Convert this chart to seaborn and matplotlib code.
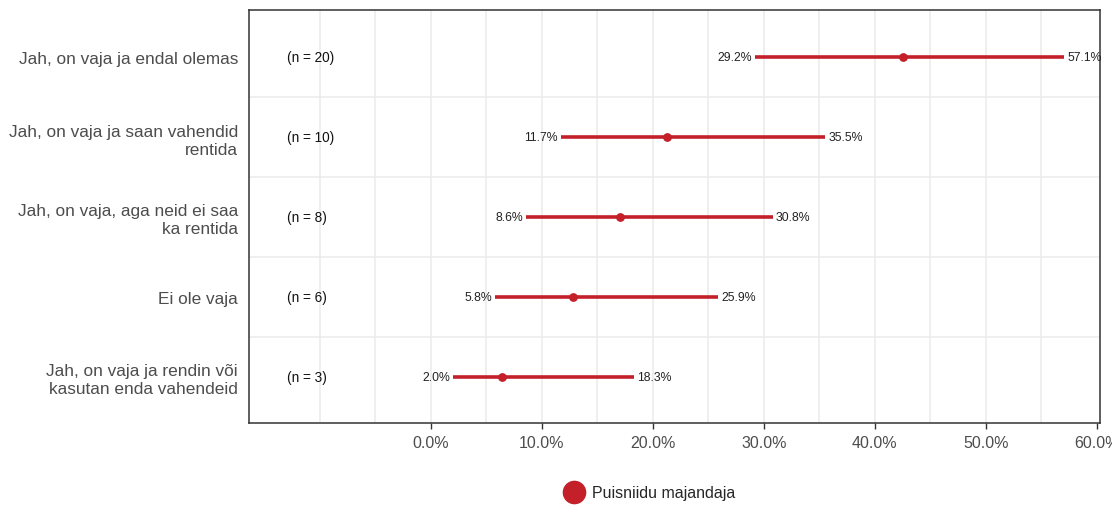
import matplotlib
matplotlib.use("Agg")
import matplotlib.pyplot as plt
import seaborn as sns
import pandas as pd
from matplotlib.lines import Line2D

categories = [
    "Jah, on vaja ja endal olemas",
    "Jah, on vaja ja saan vahendid\nrentida",
    "Jah, on vaja, aga neid ei saa\nka rentida",
    "Ei ole vaja",
    "Jah, on vaja ja rendin või\nkasutan enda vahendeid",
]
counts = [20, 10, 8, 6, 3]
total = 47
estimates = [c / total * 100 for c in counts]
lower = [29.2, 11.7, 8.6, 5.8, 2.0]
upper = [57.1, 35.5, 30.8, 25.9, 18.3]
tick_values = [0, 10, 20, 30, 40, 50, 60]
group_label = "Puisniidu majandaja"

df = pd.DataFrame({"cat": categories, "n": counts, "est": estimates,
                   "lo": lower, "hi": upper})
df["row"] = range(len(df))

sns.set_theme(style="white")
plt.rcParams["font.family"] = ["Liberation Sans", "DejaVu Sans"]

red = "#C3202A"
fig = plt.figure(figsize=(11.12, 5.06), dpi=100)
ax = fig.add_axes([249 / 1112, 1 - 424 / 506, (1100 - 249) / 1112, (424 - 11) / 506])

# grid
for x in range(-10, 60, 5):
    ax.axvline(x, color="#EBEBEB", lw=1.1, zorder=0)
for y in [0.5, 1.5, 2.5, 3.5]:
    ax.axhline(y, color="#EBEBEB", lw=1.1, zorder=0)

# intervals
for _, r in df.iterrows():
    ax.plot([r.lo, r.hi], [r.row, r.row], color=red, lw=2.6, solid_capstyle="butt", zorder=2)
    ax.text(r.lo - 0.3, r.row, f"{r.lo:.1f}%", ha="right", va="center", fontsize=8.8, color="#222222")
    ax.text(r.hi + 0.3, r.row, f"{r.hi:.1f}%", ha="left", va="center", fontsize=8.8, color="#222222")
    ax.text(-13.0, r.row, f"(n = {r.n})", ha="left", va="center", fontsize=9.8, color="#111111")

sns.scatterplot(data=df, x="est", y="row", color=red, s=40, edgecolor=red,
                linewidth=0, ax=ax, zorder=3, legend=False)

ax.set_xlim(-16.4, 60.3)
ax.set_ylim(4.58, -0.59)
ax.set_yticks(df["row"])
ax.set_yticklabels(categories, fontsize=12.4, color="#4D4D4D", linespacing=1.25)
ax.set_xticks(tick_values)
ax.set_xticklabels([f"{v:.1f}%" for v in tick_values], fontsize=11.5, color="#4D4D4D")
ax.tick_params(axis="x", length=4, width=1, color="#333333", pad=5, bottom=True)
ax.tick_params(axis="y", length=0, pad=8)
ax.set_xlabel("")
ax.set_ylabel("")
for s in ax.spines.values():
    s.set_color("#333333")
    s.set_linewidth(1.1)

handle = Line2D([], [], marker="o", color="none", markerfacecolor=red,
                markeredgecolor=red, markersize=16)
fig.legend([handle], [group_label], loc="center left", bbox_to_anchor=(566 / 1112, 1 - 494 / 506),
           frameon=False, fontsize=11.5, handletextpad=0.6, handlelength=1.0,
           borderaxespad=0, borderpad=0)

fig.savefig("out.png", dpi=100)
